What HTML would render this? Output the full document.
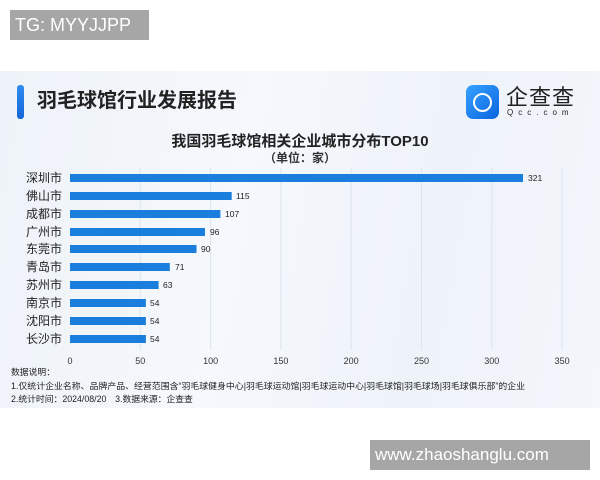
<!DOCTYPE html>
<html><head><meta charset="utf-8"><style>
body{margin:0;width:600px;height:480px;background:#fff;position:relative;overflow:hidden;font-family:"Liberation Sans","Noto Sans CJK SC",sans-serif}
.abs{position:absolute}
</style></head><body>
<div class="abs" style="left:10px;top:10px;width:139px;height:30px;background:#a6a6a6;color:#fff;font-size:18px;line-height:30px;padding-left:5px;box-sizing:border-box">TG: MYYJJPP</div>
<div class="abs" style="left:0;top:71px;width:600px;height:337px;background:linear-gradient(100deg,#eef3f9 0%,#f5f8fc 40%,#eef3fa 70%,#f3f6fb 100%)"></div>
<div class="abs" style="left:17px;top:85px;width:7px;height:34px;border-radius:3px;background:linear-gradient(#2f8cf0,#1565d8)"></div>
<div class="abs" style="left:37px;top:86px;font-size:20px;font-weight:bold;color:#222;line-height:30px">羽毛球馆行业发展报告</div>
<div class="abs" style="left:466px;top:85px;width:33px;height:34px;border-radius:7px;background:linear-gradient(135deg,#36a2ff,#0b64e0)"></div>
<div class="abs" style="left:473px;top:93px;width:15px;height:15px;border:2.5px solid #fff;border-radius:50%"></div>
<div class="abs" style="left:506px;top:85px;font-size:22px;color:#222;line-height:26px;letter-spacing:1px">企查查</div>
<div class="abs" style="left:507px;top:108px;font-size:8px;color:#222;letter-spacing:5px">Qcc.com</div>
<div class="abs" style="left:0;width:600px;top:130px;text-align:center;font-size:15px;font-weight:bold;color:#222">我国羽毛球馆相关企业城市分布TOP10</div>
<div class="abs" style="left:0;width:600px;top:149px;text-align:center;font-size:12px;font-weight:bold;color:#333">（单位：家）</div>
<svg class="abs" style="left:0;top:0" width="600" height="480">
<g stroke="#dde4ee" stroke-width="1">
<line x1="140.3" y1="168" x2="140.3" y2="350"/><line x1="210.6" y1="168" x2="210.6" y2="350"/><line x1="280.9" y1="168" x2="280.9" y2="350"/><line x1="351.2" y1="168" x2="351.2" y2="350"/><line x1="421.5" y1="168" x2="421.5" y2="350"/><line x1="491.8" y1="168" x2="491.8" y2="350"/><line x1="562.1" y1="168" x2="562.1" y2="350"/>
</g>
<g fill="#1a7fdc">
<rect x="70" y="174" width="453" height="8"/>
<rect x="70" y="192" width="161.7" height="8"/>
<rect x="70" y="210" width="150.4" height="8"/>
<rect x="70" y="228" width="135" height="8"/>
<rect x="70" y="245" width="126.5" height="8"/>
<rect x="70" y="263" width="99.8" height="8"/>
<rect x="70" y="281" width="88.6" height="8"/>
<rect x="70" y="299" width="75.9" height="8"/>
<rect x="70" y="317" width="75.9" height="8"/>
<rect x="70" y="335" width="75.9" height="8"/>
</g>
<g font-size="12" fill="#222" text-anchor="end" font-family="Liberation Sans,Noto Sans CJK SC,sans-serif">
<text x="62" y="182">深圳市</text><text x="62" y="200">佛山市</text><text x="62" y="218">成都市</text><text x="62" y="236">广州市</text><text x="62" y="253">东莞市</text><text x="62" y="271">青岛市</text><text x="62" y="289">苏州市</text><text x="62" y="307">南京市</text><text x="62" y="325">沈阳市</text><text x="62" y="343">长沙市</text>
</g>
<g font-size="8.5" fill="#222">
<text x="528" y="181">321</text><text x="236" y="199">115</text><text x="225" y="217">107</text><text x="210" y="235">96</text><text x="201" y="252">90</text><text x="175" y="270">71</text><text x="163" y="288">63</text><text x="150" y="306">54</text><text x="150" y="324">54</text><text x="150" y="342">54</text>
</g>
<g font-size="9" fill="#333" text-anchor="middle">
<text x="70" y="364">0</text><text x="140.3" y="364">50</text><text x="210.6" y="364">100</text><text x="280.9" y="364">150</text><text x="351.2" y="364">200</text><text x="421.5" y="364">250</text><text x="491.8" y="364">300</text><text x="562.1" y="364">350</text>
</g>
<g font-size="8.8" fill="#222" font-family="Liberation Sans,Noto Sans CJK SC,sans-serif">
<text x="11" y="375">数据说明：</text>
<text x="11" y="389" textLength="514" lengthAdjust="spacingAndGlyphs">1.仅统计企业名称、品牌产品、经营范围含“羽毛球健身中心|羽毛球运动馆|羽毛球运动中心|羽毛球馆|羽毛球场|羽毛球俱乐部”的企业</text>
<text x="11" y="402">2.统计时间：2024/08/20　3.数据来源：企查查</text>
</g>
</svg>
<div class="abs" style="left:370px;top:440px;width:220px;height:30px;background:#a6a6a6;color:#fff;font-size:17px;line-height:30px;padding-left:5px;box-sizing:border-box">www.zhaoshanglu.com</div>
</body></html>
